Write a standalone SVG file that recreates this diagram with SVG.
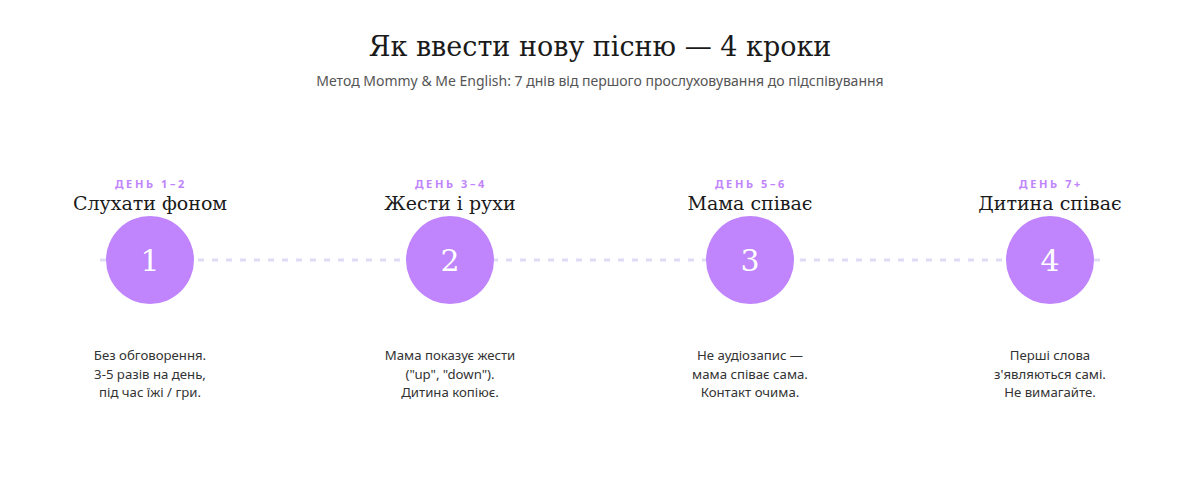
<svg xmlns="http://www.w3.org/2000/svg" width="1200" height="480" viewBox="0 0 1200 480">
<style>
.title{font-family:"DejaVu Serif","Liberation Serif",serif;font-size:27px;fill:#1a1a1a;text-anchor:middle}
.sub{font-family:"Noto Sans","Open Sans",sans-serif;font-size:14px;fill:#555;text-anchor:middle}
.day{font-family:"Noto Sans","Open Sans",sans-serif;font-size:11px;font-weight:700;letter-spacing:2.6px;fill:#c084fc;text-anchor:middle}
.head{font-family:"DejaVu Serif","Liberation Serif",serif;font-size:19px;fill:#1a1a1a;text-anchor:middle}
.num{font-family:"DejaVu Serif","Liberation Serif",serif;font-size:30px;fill:#fff;text-anchor:middle}
.desc{font-family:"Noto Sans","Open Sans",sans-serif;font-size:13.2px;fill:#333;text-anchor:middle}
.dot{fill:#c084fc}
.link{stroke:#e2dbf6;stroke-width:3;stroke-dasharray:6 8;fill:none}
</style>
<rect width="1200" height="480" fill="#fff"/>
<text class="title" x="600" y="56">Як ввести нову пісню — 4 кроки</text>
<text class="sub" x="600" y="86">Метод Mommy &amp; Me English: 7 днів від першого прослуховування до підспівування</text>
<g id="connectors">
<line class="link" x1="100" y1="260" x2="1100" y2="260"/>
</g>
<g id="step1">
<text class="day" x="151" y="188">ДЕНЬ 1–2</text>
<text class="head" x="150" y="210">Слухати фоном</text>
<circle class="dot" cx="150" cy="260" r="44"/>
<text class="num" x="150" y="271">1</text>
<text class="desc" x="150" y="360">Без обговорення.</text>
<text class="desc" x="150" y="379">3-5 разів на день,</text>
<text class="desc" x="150" y="397">під час їжі / гри.</text>
</g>
<g id="step2">
<text class="day" x="451" y="188">ДЕНЬ 3–4</text>
<text class="head" x="450" y="210">Жести і рухи</text>
<circle class="dot" cx="450" cy="260" r="44"/>
<text class="num" x="450" y="271">2</text>
<text class="desc" x="450" y="360">Мама показує жести</text>
<text class="desc" x="450" y="379">("up", "down").</text>
<text class="desc" x="450" y="397">Дитина копіює.</text>
</g>
<g id="step3">
<text class="day" x="751" y="188">ДЕНЬ 5–6</text>
<text class="head" x="750" y="210">Мама співає</text>
<circle class="dot" cx="750" cy="260" r="44"/>
<text class="num" x="750" y="271">3</text>
<text class="desc" x="750" y="360">Не аудіозапис —</text>
<text class="desc" x="750" y="379">мама співає сама.</text>
<text class="desc" x="750" y="397">Контакт очима.</text>
</g>
<g id="step4">
<text class="day" x="1051" y="188">ДЕНЬ 7+</text>
<text class="head" x="1050" y="210">Дитина співає</text>
<circle class="dot" cx="1050" cy="260" r="44"/>
<text class="num" x="1050" y="271">4</text>
<text class="desc" x="1050" y="360">Перші слова</text>
<text class="desc" x="1050" y="379">з'являються самі.</text>
<text class="desc" x="1050" y="397">Не вимагайте.</text>
</g>
</svg>
